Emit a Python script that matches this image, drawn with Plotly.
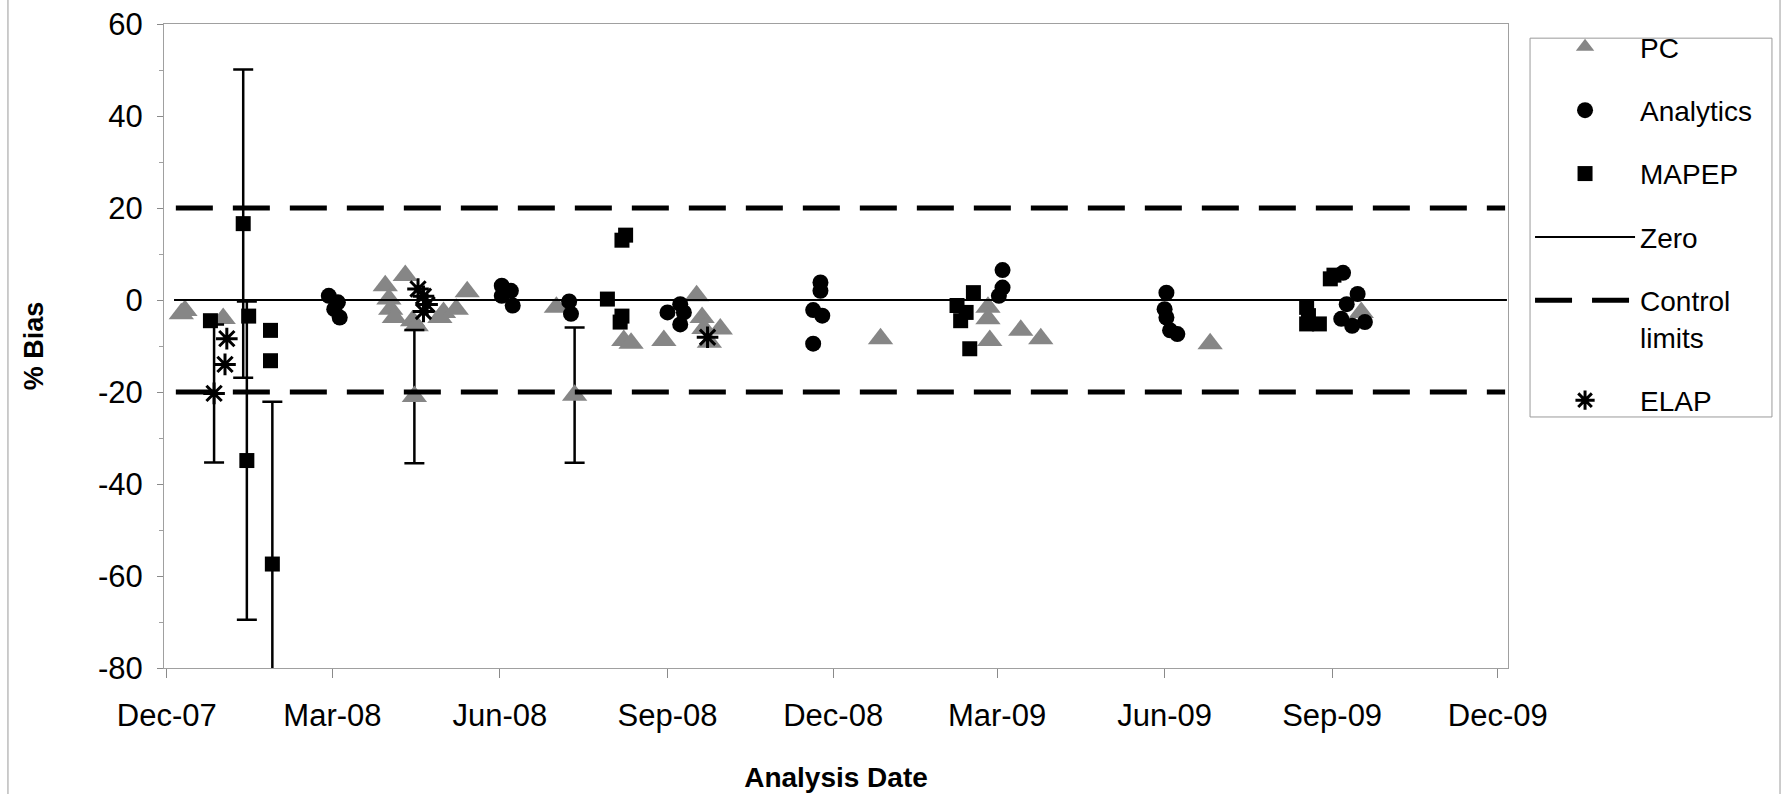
import plotly.graph_objects as go

# ---------------- data ----------------
tick_vals = ['2007-12-01', '2008-03-01', '2008-06-01', '2008-09-01', '2008-12-01',
             '2009-03-01', '2009-06-01', '2009-09-01', '2009-12-01']
tick_text = ['Dec-07', 'Mar-08', 'Jun-08', 'Sep-08', 'Dec-08',
             'Mar-09', 'Jun-09', 'Sep-09', 'Dec-09']
y_tick_vals = [-80, -60, -40, -20, 0, 20, 40, 60]
y_tick_text = ['-80', '-60', '-40', '-20', '0', '20', '40', '60']

pc_dates = ['2007-12-09', '2007-12-11', '2008-01-01', '2008-03-30', '2008-04-01',
            '2008-04-02', '2008-04-04', '2008-04-10', '2008-04-14', '2008-04-16',
            '2008-04-15', '2008-04-29', '2008-05-01', '2008-05-08', '2008-05-14',
            '2008-07-02', '2008-07-12', '2008-08-08', '2008-08-12', '2008-08-30',
            '2008-09-17', '2008-09-20', '2008-09-21', '2008-09-24', '2008-09-30',
            '2008-12-27', '2009-02-24', '2009-02-24', '2009-02-25', '2009-03-14',
            '2009-03-25', '2009-06-26', '2009-09-17']
pc_bias = [-3.0, -2.3, -4.0, 3.1, 0.2,
           -2.0, -3.8, 5.3, -4.5, -5.6,
           -21.0, -3.8, -2.7, -2.0, 1.8,
           -1.6, -20.7, -8.8, -9.4, -8.8,
           0.9, -3.8, -6.2, -9.2, -6.3,
           -8.4, -1.6, -4.1, -8.8, -6.6,
           -8.4, -9.5, -2.7]
pc_err = [None] * 10 + [14.5] + [None] * 5 + [14.7] + [None] * 16

an_dates = ['2008-02-28', '2008-03-04', '2008-03-02', '2008-03-05',
            '2008-06-02', '2008-06-07', '2008-06-02', '2008-06-08',
            '2008-07-09', '2008-07-10',
            '2008-09-01', '2008-09-08', '2008-09-10', '2008-09-08',
            '2008-11-24', '2008-11-24', '2008-11-20', '2008-11-25', '2008-11-20',
            '2009-03-04', '2009-03-04', '2009-03-02',
            '2009-06-02', '2009-06-01', '2009-06-02', '2009-06-04', '2009-06-08',
            '2009-09-07', '2009-09-15', '2009-09-09', '2009-09-06', '2009-09-12', '2009-09-19']
an_bias = [0.9, -0.5, -2.0, -3.8,
           3.1, 2.0, 0.9, -1.2,
           -0.3, -3.0,
           -2.7, -0.9, -2.7, -5.3,
           3.8, 2.0, -2.2, -3.4, -9.5,
           6.5, 2.7, 0.9,
           1.6, -2.0, -3.8, -6.6, -7.4,
           5.9, 1.3, -0.9, -4.1, -5.6, -4.8]

mapep_dates = ['2007-12-25', '2008-01-12', '2008-01-15', '2008-01-14', '2008-01-27',
               '2008-01-27', '2008-01-28', '2008-07-30', '2008-08-06', '2008-08-07',
               '2008-08-07', '2008-08-09', '2009-02-07', '2009-02-09', '2009-02-12',
               '2009-02-14', '2009-02-16', '2009-08-18', '2009-08-19', '2009-08-18',
               '2009-08-25', '2009-08-31', '2009-09-02']
mapep_bias = [-4.5, 16.6, -3.5, -34.9, -6.6,
              -13.2, -57.4, 0.2, -4.8, -3.5,
              13.0, 14.1, -1.2, -4.5, -2.7,
              -10.6, 1.6, -1.6, -3.4, -5.2,
              -5.2, 4.6, 5.4]
mapep_err = [None, 33.5, None, 34.6, None,
             None, 35.3] + [None] * 16

elap_dates = ['2007-12-27', '2008-01-02', '2008-01-03', '2008-04-17', '2008-04-20',
              '2008-04-22', '2008-04-20', '2008-09-23']
elap_bias = [-20.3, -14.0, -8.4, 2.4, 0.8, -1.0, -2.5, -8.1]
elap_err = [15.0] + [None] * 7

zero_dates = ['2007-12-05', '2009-12-06']
zero_vals = [0, 0]

ctrl_dates = ['2007-12-06', '2009-12-05', None, '2007-12-06', '2009-12-05']
ctrl_vals = [20, 20, None, -20, -20]

x_range = ['2007-11-29 12:00', '2009-12-06 14:00']
y_range = [-80, 60]

# ---------------- figure ----------------
FONT = 'Arial, Liberation Sans, sans-serif'


def split(dates, vals, errs):
    """Split a series into points without and with error bars."""
    plain = [(d, v) for d, v, e in zip(dates, vals, errs) if e is None]
    witherr = [(d, v, e) for d, v, e in zip(dates, vals, errs) if e is not None]
    return ([p[0] for p in plain], [p[1] for p in plain],
            [p[0] for p in witherr], [p[1] for p in witherr], [p[2] for p in witherr])


def err(arr):
    return dict(type='data', array=arr, visible=True, color='black',
                thickness=2.5, width=10)


fig = go.Figure()


def add_series(name, group, dates, vals, errs, marker):
    xd, yd, xe, ye, ee = split(dates, vals, errs)
    fig.add_trace(go.Scatter(x=xd, y=yd, mode='markers', name=name,
                             legendgroup=group, marker=marker))
    if xe:
        fig.add_trace(go.Scatter(x=xe, y=ye, mode='markers', name=name,
                                 legendgroup=group, showlegend=False,
                                 marker=marker, error_y=err(ee)))


add_series('PC', 'pc', pc_dates, pc_bias, pc_err,
           dict(symbol='triangle-up', size=22, color='#868686', line=dict(width=0)))

fig.add_trace(go.Scatter(
    x=an_dates, y=an_bias, mode='markers', name='Analytics', legendgroup='an',
    marker=dict(symbol='circle', size=16, color='black', line=dict(width=0))))

add_series('MAPEP', 'mp', mapep_dates, mapep_bias, mapep_err,
           dict(symbol='square', size=15, color='black', line=dict(width=0)))

fig.add_trace(go.Scatter(
    x=zero_dates, y=zero_vals, mode='lines', name='Zero', legendgroup='zero',
    line=dict(color='black', width=2)))

fig.add_trace(go.Scatter(
    x=ctrl_dates, y=ctrl_vals, mode='lines', name='Control<br>limits',
    legendgroup='ctrl', connectgaps=False,
    line=dict(color='black', width=5, dash='37px,20px')))

add_series('ELAP', 'elap', elap_dates, elap_bias, elap_err,
           dict(symbol='asterisk-open', size=18, color='black',
                line=dict(width=3, color='black')))

# outer chart border and legend frame (decoration)
fig.add_shape(type='rect', xref='paper', yref='paper',
              x0=-0.1161, x1=1.2024, y0=-0.3, y1=1.2,
              line=dict(color='#9a9a9a', width=1), layer='below')
fig.add_shape(type='rect', xref='paper', yref='paper',
              x0=1.0164, x1=1.1964, y0=0.3898, y1=0.978,
              line=dict(color='#9a9a9a', width=1), layer='below')

fig.update_layout(
    width=1788, height=794,
    margin=dict(l=164, r=280, t=24, b=126, autoexpand=False),
    paper_bgcolor='white', plot_bgcolor='white',
    font=dict(family=FONT, color='black', size=31),
    showlegend=True,
    legend=dict(
        x=1.0164, y=1.003, xanchor='left', yanchor='top',
        borderwidth=0, bgcolor='rgba(0,0,0,0)',
        font=dict(family=FONT, size=28, color='black'),
        tracegroupgap=24, itemwidth=100, valign='top',
        traceorder='grouped', maxheight=760),
    xaxis=dict(
        type='date', range=x_range, tickvals=tick_vals, ticktext=tick_text,
        showgrid=False, zeroline=False, showline=True, mirror=True,
        linecolor='#a0a0a0', linewidth=1,
        ticks='outside', ticklen=9, tickcolor='#8a8a8a', tickwidth=1,
        ticklabelstandoff=11,
        tickfont=dict(family=FONT, size=31, color='black'),
        title=dict(text='<b>Analysis Date</b>', standoff=35,
                   font=dict(family=FONT, size=28, color='black')),
        automargin=False),
    yaxis=dict(
        range=y_range, tickvals=y_tick_vals, ticktext=y_tick_text,
        showgrid=False, zeroline=False, showline=True, mirror=True,
        linecolor='#a0a0a0', linewidth=1,
        ticks='outside', ticklen=6, tickcolor='#8a8a8a', tickwidth=1,
        minor=dict(dtick=10, ticks='outside', ticklen=4, tickcolor='#a0a0a0',
                   showgrid=False),
        ticklabelstandoff=8,
        tickfont=dict(family=FONT, size=31, color='black'),
        title=dict(text='<b>% Bias</b>', standoff=46,
                   font=dict(family=FONT, size=27, color='black')),
        automargin=False),
)

fig.write_html('out.html', config={'displayModeBar': False},
               post_script="document.body.style.margin='0px';")
